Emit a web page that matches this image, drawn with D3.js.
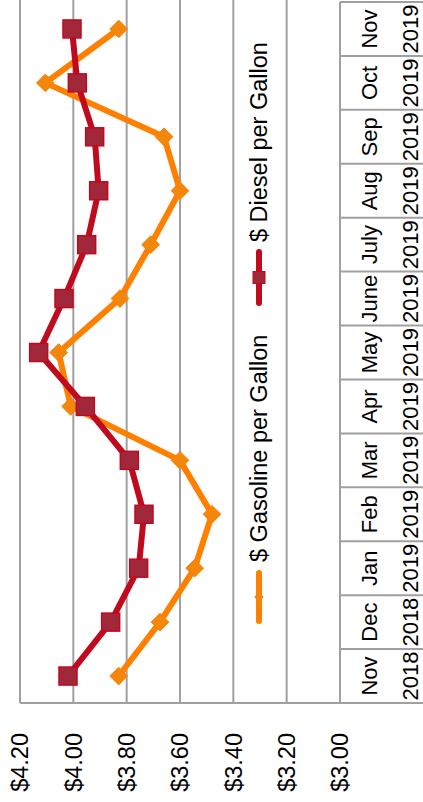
<!DOCTYPE html>
<html>
<head>
<meta charset="utf-8">
<script src="https://cdn.jsdelivr.net/npm/d3@7"></script>
<style>
  html, body { margin: 0; padding: 0; background: #fff; }
  svg { display: block; }
  text { font-family: "Liberation Sans", Arial, sans-serif; fill: #000; }
</style>
</head>
<body>
<script>
const months = ["Nov", "Dec", "Jan", "Feb", "Mar", "Apr", "May", "June", "July", "Aug", "Sep", "Oct", "Nov"];
const years = ["2018", "2018", "2019", "2019", "2019", "2019", "2019", "2019", "2019", "2019", "2019", "2019", "2019"];
const gasoline = [3.83, 3.675, 3.545, 3.48, 3.60, 4.01, 4.055, 3.825, 3.71, 3.60, 3.66, 4.105, 3.83];
const diesel = [4.02, 3.86, 3.755, 3.735, 3.79, 3.955, 4.13, 4.035, 3.95, 3.905, 3.92, 3.985, 4.005];
const valueTicks = [3.0, 3.2, 3.4, 3.6, 3.8, 4.0, 4.2];
const seriesNames = ["$ Gasoline per Gallon", "$ Diesel per Gallon"];

const W = 423, H = 802;       // page
const CW = 802, CH = 423;     // chart frame before rotation

const svg = d3.select("body").append("svg").attr("width", W).attr("height", H);
const g = svg.append("g").attr("transform", `translate(0,${H}) rotate(-90)`);

const cats = months.map((m, i) => i);
const x = d3.scaleBand().domain(cats).range([99, 800]).padding(0);
const y = d3.scaleLinear().domain([3.0, 4.2]).range([340, 20]);
const cx = i => x(i) + x.bandwidth() / 2;

const grid = "#a0a0a0";

// gridlines
g.append("g").selectAll("line").data(valueTicks.filter(v => v > 3.0)).join("line")
  .attr("x1", 99).attr("x2", CW)
  .attr("y1", d => y(d)).attr("y2", d => y(d))
  .attr("stroke", grid).attr("stroke-width", 2);

// baseline / table top
g.append("line").attr("x1", 99).attr("x2", 800).attr("y1", y(3.0)).attr("y2", y(3.0))
  .attr("stroke", grid).attr("stroke-width", 2);
// left border (full height)
g.append("line").attr("x1", 99).attr("x2", 99).attr("y1", y(4.2)).attr("y2", CH)
  .attr("stroke", grid).attr("stroke-width", 2);
// table separators
g.append("g").selectAll("line").data(cats.slice(1).concat([cats.length])).join("line")
  .attr("x1", d => d < cats.length ? x(d) : 800)
  .attr("x2", d => d < cats.length ? x(d) : 800)
  .attr("y1", y(3.0)).attr("y2", CH)
  .attr("stroke", grid).attr("stroke-width", 2);

// value labels
g.append("g").selectAll("text").data(valueTicks).join("text")
  .attr("x", 69).attr("y", d => y(d)).attr("dy", "0.35em")
  .attr("text-anchor", "end").attr("font-size", 23.5)
  .text(d => "$" + d3.format(".2f")(d));

// category labels
g.append("g").selectAll("text").data(cats).join("text")
  .attr("x", d => cx(d)).attr("y", 377).attr("text-anchor", "middle")
  .attr("font-size", 22).text(d => months[d]);
g.append("g").selectAll("text").data(cats).join("text")
  .attr("x", d => cx(d)).attr("y", 418).attr("text-anchor", "middle")
  .attr("font-size", 22).text(d => years[d]);

const gasColor = "#ff8000", gasMarker = "#f2870c";
const dieColor = "#c00a1e", dieMarker = "#a0283a";

const line = d3.line().x((d, i) => cx(i)).y(d => y(d));

// gasoline
g.append("path").datum(gasoline).attr("d", line)
  .attr("fill", "none").attr("stroke", gasColor).attr("stroke-width", 6).attr("stroke-linejoin", "round");
const diamond = d3.symbol().type(d3.symbolDiamond2).size(200);
g.append("g").selectAll("path").data(gasoline).join("path")
  .attr("transform", (d, i) => `translate(${cx(i)},${y(d)})`)
  .attr("d", diamond).attr("fill", gasMarker).attr("stroke", gasColor).attr("stroke-width", 1);

// diesel
g.append("path").datum(diesel).attr("d", line)
  .attr("fill", "none").attr("stroke", dieColor).attr("stroke-width", 6).attr("stroke-linejoin", "round");
const sq = 18;
g.append("g").selectAll("rect").data(diesel).join("rect")
  .attr("x", (d, i) => cx(i) - sq / 2).attr("y", d => y(d) - sq / 2)
  .attr("width", sq).attr("height", sq)
  .attr("fill", dieMarker).attr("stroke", dieColor).attr("stroke-width", 1.5);

// legend
const lg = g.append("g");
const ly = 259;
// gasoline entry
lg.append("line").attr("x1", 181).attr("x2", 229).attr("y1", ly).attr("y2", ly)
  .attr("stroke", gasColor).attr("stroke-width", 6).attr("stroke-linecap", "round");
lg.append("path").attr("transform", `translate(205,${ly})`)
  .attr("d", d3.symbol().type(d3.symbolDiamond2).size(60)).attr("fill", gasMarker);
lg.append("text").attr("x", 240).attr("y", ly + 8).attr("font-size", 23.5).text(seriesNames[0]);
// diesel entry
lg.append("line").attr("x1", 499).attr("x2", 550).attr("y1", ly).attr("y2", ly)
  .attr("stroke", dieColor).attr("stroke-width", 6).attr("stroke-linecap", "round");
lg.append("rect").attr("x", 524.5 - 6).attr("y", ly - 6).attr("width", 12).attr("height", 12)
  .attr("fill", dieMarker).attr("stroke", dieColor).attr("stroke-width", 1);
lg.append("text").attr("x", 560).attr("y", ly + 8).attr("font-size", 23.5).text(seriesNames[1]);
</script>
</body>
</html>
